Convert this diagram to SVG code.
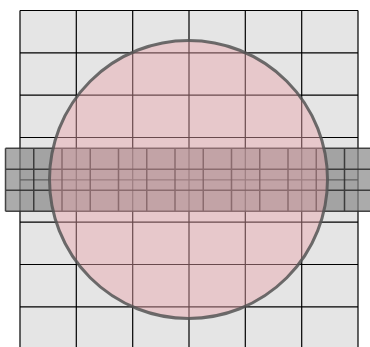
<svg xmlns="http://www.w3.org/2000/svg" width="370" height="347" viewBox="0 0 370 347">
<style>
.cellbg{fill:#e5e5e5}
.gridline{fill:none;stroke:#000;stroke-width:1.2}
.bandbg{fill:#888;fill-opacity:0.7}
.bandline{fill:none;stroke:#2a2a2a;stroke-width:1.5;stroke-opacity:0.85}
.circ{fill:rgb(232,163,170);fill-opacity:0.45;stroke:#555;stroke-opacity:0.85;stroke-width:3}
</style>
<rect width="370" height="347" fill="#fff"/>
<g id="grid">
<rect class="cellbg" x="20" y="10.5" width="338" height="338.7"/>
<path class="gridline" d="M20,10.5V349.2M76.3,10.5V349.2M132.7,10.5V349.2M189,10.5V349.2M245.3,10.5V349.2M301.7,10.5V349.2M358,10.5V349.2
M20,10.5H358M20,52.8H358M20,95.2H358M20,137.5H358M20,179.8H358M20,222.2H358M20,264.5H358M20,306.8H358"/>
</g>
<g id="band">
<rect class="bandbg" x="5.5" y="148.3" width="370" height="63"/>
<path class="bandline" d="M5.5,148.3H375M5.5,169.3H375M5.5,190.3H375M5.5,211.3H375
M5.5,148.3V211.3M33.75,148.3V211.3M62,148.3V211.3M90.25,148.3V211.3M118.5,148.3V211.3M146.75,148.3V211.3M175,148.3V211.3M203.25,148.3V211.3M231.5,148.3V211.3M259.75,148.3V211.3M288,148.3V211.3M316.25,148.3V211.3M344.5,148.3V211.3"/>
</g>
<g id="circle">
<circle class="circ" cx="188.5" cy="179.5" r="139"/>
</g>
</svg>
